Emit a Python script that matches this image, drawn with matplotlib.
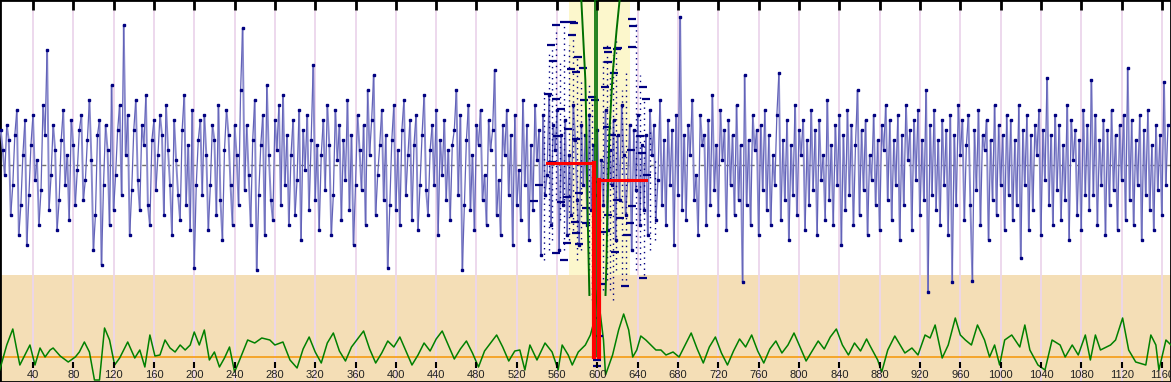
#!/usr/bin/env python3
"""Tick series with funnel overlay and oscillator band."""

import numpy as np
import matplotlib
matplotlib.use("Agg")
import matplotlib.pyplot as plt  # noqa: E402
from matplotlib.collections import LineCollection  # noqa: E402

# upper series, one value every 2 units starting at x=8 (deviation from mean)
blue_start, blue_step = 8, 2
blue_vals = [
    35, 15, -10, 40, 25, -50, -20, 30, 55, -70, -40, 10, 45, -80, -30, 20, 50, -15, 5, -60,
    -25, 60, 30, 115, -45, -10, 40, 15, -65, -35, 25, 55, -20, 10, -55, 45, 20, -40, -5, 35,
    50, -35, -15, 25, 65, 5, -85, -50, 30, 45, -100, -20, 40, 15, -60, 80, -45, -10, 35, 60,
    -30, 140, 10, 50, -70, -25, 35, 65, -15, -45, 40, 20, 70, -40, -60, 25, 45, -25, 10, 50,
    30, -50, 60, 15, -20, -70, 45, 5, -30, -55, 35, 70, -40, 20, -65, 55, -103, -20, 25, 45,
    -30, 50, 10, -65, -20, 40, 25, -50, 60, -35, -75, 15, 55, 30, -20, -60, 40, 10, -40, 75,
    137, -25, 40, -10, -60, 25, 65, -105, -30, 20, 50, -70, 80, 10, -35, -55, 45, 15, 60, -40,
    70, -20, 30, -60, 10, 45, -50, -15, 55, -75, 35, -5, 50, -45, 25, 100, -35, 20, -65, 10,
    45, -25, 60, 20, -70, -30, 55, 5, 40, -55, 25, -15, 65, -45, 30, -80, -20, 50, 15, -25,
    40, -60, 75, 10, 45, 90, -50, -10, 20, 55, -35, 30, -103, -40, 25, 60, -45, 15, -60, 35,
    65, -30, 10, 45, -55, 20, 50, -65, -20, 30, 70, -25, -50, 15, 40, -20, 55, -70, 25, -10,
    45, -35, 15, -55, 20, 35, 75, -30, 50, -105, -40, 25, 60, -45, 10, -65, 40, 20, 55, -35,
    -10, -60, 45, 15, 35, 95, -50, -15, -70, 40, 10, 55, -30, 30, -80, 50, -40, -5, -55, 65,
    -20, 40, -75, 20, -45, 60, 5, 35, -90, 50, -30, -10, 70, -60, 40, 15, 55, -85, 30, -40,
    45, -70, 10, -50, 60, 25, -35, -80, 40, -20, 30, -60, 50, -45, 20, -30, 35, -55, 5, -40,
    55, -65, 15, -20, 45, -75, 30, -35, 60, 10, -50, -15, 40, -85, 35, -25, 50, -60, 20, -45,
    30, -70, 55, 10, 40, -55, -15, 65, -40, 25, -60, 45, -20, 35, -80, 50, -30, 148, -45, 30,
    -55, 40, 10, 65, -35, -10, -70, 50, 20, 30, -60, 45, -40, 70, -25, 20, -50, 55, 5, 35,
    -65, 45, -20, 30, -50, 60, -35, 20, -117, 90, -40, 25, -60, 50, 15, 35, -70, 40, -25, 55,
    -45, 30, -60, 10, -20, 50, 92, -55, 25, -35, 45, -75, 20, -30, 60, -50, 35, 10, 45, -65,
    25, -40, 55, -25, 35, -70, 45, -15, 10, -55, 65, -35, 20, -60, 40, -20, 50, -80, 30, -45,
    55, -30, 40, -60, 20, 75, -50, 35, -25, 45, -70, 10, -15, 50, -40, 25, -65, 40, 15, 60,
    -35, 45, -55, 25, -20, 50, -75, 30, -40, 60, 5, 35, -65, 45, -15, 55, -50, 25, -35, 75,
    -127, 40, -30, 55, -45, 25, -60, 45, -20, 35, -70, 50, -117, 30, -40, 60, 10, 45, -55, 20,
    50, -40, -116, 35, -25, 55, -60, 30, 15, 45, -75, 25, -35, 60, -50, 40, -20, 30, -65, 50,
    -30, 45, -55, 25, -40, 60, -93, 35, -20, 50, -65, 30, -45, 40, 10, 55, -70, 35, -15, 87,
    -40, 30, -60, 50, -25, 40, -55, 20, -35, 60, -75, 45, 5, 35, -50, 25, -65, 55, -30, 40,
    -45, 85, -30, 50, -60, 25, -20, 45, -70, 35, -40, 55, -25, 30, -65, 40, -15, 50, -55, 97,
    -35, 45, -60, 25, -20, 50, -75, 35, -30, 55, -45, 20, -65, 40, -25, 30, -50, 83, -20, 40,
]

# oscillator in the lower band (value above its zero line)
green_x = [
    7, 14, 20, 24, 27, 32, 37, 42, 47, 52, 57, 60, 67, 75, 82, 86, 91, 96, 101, 106,
    111, 116, 121, 126, 134, 141, 146, 151, 156, 161, 166, 171, 176, 181, 186, 191, 196, 200, 205, 210,
    215, 220, 225, 230, 235, 240, 245, 253, 260, 267, 275, 280, 288, 295, 302, 308, 314, 320, 326, 332,
    338, 344, 350, 356, 362, 368, 374, 380, 386, 392, 398, 404, 410, 416, 422, 428, 434, 440, 446, 452,
    458, 464, 470, 476, 482, 488, 494, 500, 506, 512, 518, 523, 528, 533, 540, 548, 555, 561, 565, 571,
    575, 581, 588, 593, 597, 600, 606, 608, 615, 621, 626, 631, 635, 639, 643, 648, 653, 658, 663, 668,
    675, 681, 687, 693, 699, 705, 711, 717, 723, 729, 735, 741, 747, 753, 759, 765, 771, 777, 783, 789,
    795, 801, 807, 813, 819, 825, 831, 837, 843, 849, 855, 861, 867, 870, 878, 882, 888, 895, 905, 912,
    918, 925, 930, 935, 942, 948, 955, 960, 965, 971, 977, 984, 989, 994, 999, 1004, 1011, 1019, 1024, 1029,
    1037, 1044, 1051, 1059, 1064, 1071, 1077, 1084, 1089, 1094, 1099, 1109, 1114, 1121, 1127, 1134, 1144, 1149, 1154, 1157,
    1164, 1169,
]
green_vals = [
    -13, 12, 28, 7, -8, 2, 12, -8, 9, 0, 7, 9, 1, -5, 0, 5, 15, 5, -23, -23,
    29, 17, -8, -1, 15, -1, 7, -10, 22, 1, 2, 17, 9, 5, 12, 7, 12, 25, 12, 27,
    -3, 5, -10, -1, 10, -15, -3, 17, 14, 19, 17, 12, 15, -3, -11, 8, 20, 5, -6, 14,
    24, 6, -4, 10, 18, 26, 8, -6, 4, 16, 10, 20, 6, -8, 2, 14, 6, 18, 26, 12,
    -2, 8, 16, 4, -10, 6, 14, 22, 10, -4, 6, 7, -13, 12, -3, 14, 5, -13, 12, 2,
    -8, 5, 12, 22, 37, 67, 17, -18, 2, 27, 43, 27, 0, 7, 21, 17, 12, 7, 7, 2,
    5, 0, 12, 24, 8, -6, 10, 20, 4, -8, 6, 18, 10, 22, 6, -6, 8, 16, 4, 12,
    24, 10, -4, 6, 16, 8, 20, 28, 12, 2, 14, 6, 18, 12, -3, -15, 7, 21, 4, 9,
    2, 22, 19, 32, -1, 12, 39, 22, 17, 12, 32, 17, 0, 12, -8, 17, 22, 10, 32, 7,
    -8, -13, 17, 12, 0, 12, 2, 22, -3, 22, 7, 12, 17, 39, 7, -5, -8, 22, 12, -13,
    17, 12,
]

# short dashes drawn over the shaded window
dash_x = [
    559, 554, 556, 575, 574, 586, 609, 610, 620, 616, 634, 634, 645, 648, 595, 598, 559, 564, 551, 610,
    607, 587, 579, 567, 577, 575, 619, 635, 581, 560, 571, 579, 609, 614, 633, 642, 644, 649, 599, 582,
    570, 564, 589, 619, 622, 634, 578, 589, 605, 579, 582, 629, 617, 570, 610, 632, 537, 555, 542, 604,
    599, 602, 645, 627, 567, 559, 600, 600,
]
dash_y = [
    140, 120, 104, 143, 96, 97, 117, 113, 117, 92, 146, 118, 78, 66, 68, 65, 66, 56, 71, 103,
    78, 65, 93, 143, 142, 130, 116, 139, 108, 29, 36, 26, 38, 30, 15, 29, 12, -10, -17, -28,
    -32, -37, -43, -35, -53, -41, -57, -58, -67, -68, -79, -70, -87, -78, -50, -58, -36, 3, -20, -119,
    -153, -171, -113, -121, -95, -88, -195, -201,
]

# dotted columns: x, top, bottom
dot_x = [547, 552, 555, 559, 563, 567, 572, 576, 580, 584, 592, 595, 606, 609, 612, 615, 618, 624, 628, 638, 642, 646, 652, 657]
dot_top = [75, 115, 125, 135, 105, 145, 120, 135, 110, 85, 80, 70, 105, 120, 95, 110, 125, 75, 95, 145, 90, 65, 35, 5]
dot_bot = [-95, -85, -75, -35, -55, -85, -75, -65, -95, -85, -105, -135, -125, -115, -125, -135, -105, -115, -115, -105, -100, -110, -85, -75]

# funnel bounds (x, level)
funnel_lo_x = [584, 586, 588, 589, 590, 591, 592]
funnel_lo_y = [165, 125, 85, 35, -35, -85, -130]
funnel_hi_x = [622, 619, 615, 612, 610, 609, 608]
funnel_hi_y = [165, 135, 90, 35, -35, -95, -130]
center_x = [598, 600]

# red level steps: start x, level, drop x
red_start = [550, 648]
red_level = [2, -15]
red_drop = [597, 602]

window = (572, 632)
tick_vals = list(range(40, 1161, 40))

Y_TOP, Y_BOT = 165, -217
BAND_TOP = -110
OSC_ZERO = -192


def main():
    fig = plt.figure(figsize=(11.71, 3.82), dpi=100)
    ax = fig.add_axes([0, 0, 1, 1])
    ax.set_xlim(7.3, 1169)
    ax.set_ylim(Y_BOT, Y_TOP)

    # backgrounds
    ax.axhspan(Y_BOT, BAND_TOP, color="#f4deb6", lw=0, zorder=0)
    ax.fill_between(window, BAND_TOP, Y_TOP, color="#fcf7cc", lw=0, zorder=0)
    ax.vlines(tick_vals, Y_BOT, Y_TOP, colors="#ecd6ec", lw=1.3, zorder=1)
    ax.axhline(0, color="#707070", ls=(0, (3, 3)), lw=1, zorder=2)
    ax.axhline(OSC_ZERO, color="#f5a020", lw=1.3, zorder=2)

    # upper series: rising legs a bit darker than falling legs
    bx = blue_start + blue_step * np.arange(len(blue_vals))
    by = np.array(blue_vals, dtype=float)
    segs = np.stack([np.column_stack([bx[:-1], by[:-1]]),
                     np.column_stack([bx[1:], by[1:]])], axis=1)
    up = by[1:] >= by[:-1]
    ax.add_collection(LineCollection(segs[~up], colors="#8888cc", linewidths=1.4, zorder=3))
    ax.add_collection(LineCollection(segs[up], colors="#6262b8", linewidths=0.9, zorder=3))
    ax.plot(bx, by, "s", ms=1.7, color="#000080", zorder=4)

    # window details
    ax.vlines(dot_x, dot_bot, dot_top, colors="#000080", lw=1,
              linestyles=(0, (1, 3)), zorder=4)
    ax.plot(dash_x, dash_y, "_", ms=6, mew=1.6, color="#000080", zorder=5)

    # oscillator
    ax.plot(green_x, OSC_ZERO + np.array(green_vals), color="#008000", lw=1.1, zorder=3)

    # funnel
    ax.plot(funnel_lo_x, funnel_lo_y, color="#007000", lw=1.4, zorder=6)
    ax.plot(funnel_hi_x, funnel_hi_y, color="#007000", lw=1.4, zorder=6)
    ax.vlines(center_x, OSC_ZERO, Y_TOP, colors="#007000", lw=1.2, zorder=6)

    # red steps
    for x0, lvl, xd in zip(red_start, red_level, red_drop):
        ax.plot([x0, xd], [lvl, lvl], color="#ff0000", lw=2.2, zorder=7)
        ax.plot([xd, xd], [lvl, OSC_ZERO], color="#ff0000", lw=3.0, zorder=7)

    # ticks and labels drawn inside the frame
    ax.vlines(tick_vals, Y_TOP - 10, Y_TOP, colors="black", lw=2, zorder=8)
    ax.vlines(tick_vals, Y_TOP - 368, Y_TOP - 362, colors="black", lw=1.5, zorder=8)
    for t in tick_vals:
        ax.text(t, Y_TOP - 375, str(t), ha="center", va="center", fontsize=8,
                family="Liberation Sans", color="#222222", zorder=9)

    ax.set_xticks([])
    ax.set_yticks([])
    for sp in ax.spines.values():
        sp.set_linewidth(2)
        sp.set_color("black")

    fig.savefig("out.png", dpi=100)


if __name__ == "__main__":
    main()
